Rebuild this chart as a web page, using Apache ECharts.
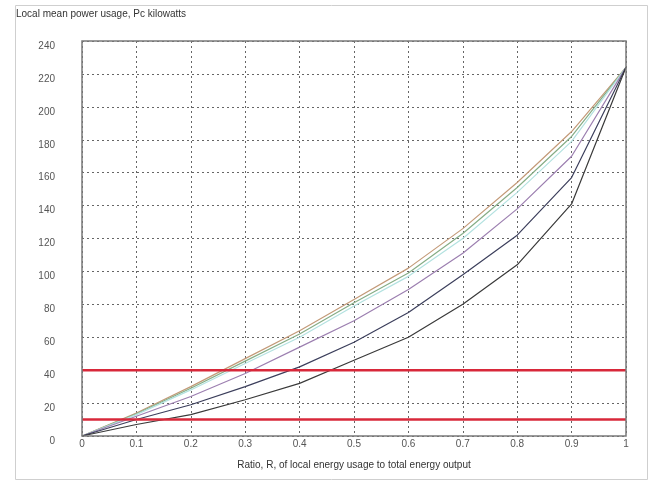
<!DOCTYPE html>
<html><head><meta charset="utf-8">
<script src="https://cdn.jsdelivr.net/npm/echarts@6/dist/echarts.min.js"></script>
<style>html,body{margin:0;padding:0;background:#fff}#c{width:653px;height:482px}</style>
</head><body><div id="c"></div>
<script>
var ratios = [0, 0.1, 0.2, 0.3, 0.4, 0.5, 0.6, 0.7, 0.8, 0.9, 1];
var curveTan    = [0, 14, 30, 47, 64, 83, 102, 126, 154, 185, 224];
var curveGreen  = [0, 13.5, 29, 45.5, 62, 81, 99, 123, 151, 182, 224];
var curveCyan   = [0, 13, 28, 44, 60, 79, 97, 120, 148, 179, 224];
var curvePurple = [0, 12, 24, 38, 54, 70, 89, 111, 138, 170, 224];
var curveNavy   = [0, 10, 19, 30, 42, 57, 75, 98, 122, 157, 224];
var curveDark   = [0, 7, 13, 22, 32, 46, 60, 80, 104, 141, 224];
var limitUpper = 40;
var limitLower = 10;
var yTitle = 'Local mean power usage, Pc kilowatts';
var xTitle = 'Ratio, R, of local energy usage to total energy output';

function pts(vals){ return ratios.map(function(r,i){ return [r, vals[i]]; }); }
var curves = [
  {v: curveTan, c: '#c39a78'},
  {v: curveGreen, c: '#86ad86'},
  {v: curveCyan, c: '#b3e2e0'},
  {v: curvePurple, c: '#9c7fb0'},
  {v: curveNavy, c: '#3c3f5c'},
  {v: curveDark, c: '#3a3a3a'}
];
var series = curves.map(function(cv){
  return {type:'line', data: pts(cv.v), symbol:'none', smooth:false,
    lineStyle:{color: cv.c, width:1.2}, silent:true, z:3};
});
[limitUpper, limitLower].forEach(function(l){
  series.push({type:'line', data:[[0,l],[1,l]], symbol:'none',
    lineStyle:{color:'#d8283a', width:2.5}, silent:true, z:4});
});

var chart = echarts.init(document.getElementById('c'), null, {renderer:'canvas'});
var font = 'Liberation Sans, Arial, sans-serif';
chart.setOption({
  animation:false,
  backgroundColor:'#fff',
  grid:{left:82, right:27, top:41, bottom:46, show:false},
  graphic:[
    {type:'rect', shape:{x:15.5, y:5.5, width:632, height:474}, style:{fill:'none', stroke:'#cfcfcf', lineWidth:1}, z:-10},
    {type:'text', left:16, top:9, style:{text:yTitle, fontSize:10, fill:'#333', fontFamily:font}},
    {type:'text', x:354, y:465, style:{text:xTitle, fontSize:10, fill:'#333', fontFamily:font, align:'center', verticalAlign:'middle'}},
    {type:'rect', shape:{x:82, y:41, width:544, height:395}, style:{fill:'none', stroke:'#7a7a7a', lineWidth:1.5}, z:10}
  ],
  xAxis:{type:'value', min:0, max:1, interval:0.1,
    axisLine:{show:false}, axisTick:{show:false},
    axisLabel:{color:'#555', fontSize:10, fontFamily:font, margin:3,
      formatter:function(v){ return String(Math.round(v*10)/10); }},
    splitLine:{show:true, lineStyle:{color:'#666', type:[2,3], width:1}}
  },
  yAxis:{type:'value', min:0, max:240, interval:20,
    axisLine:{show:false}, axisTick:{show:false},
    axisLabel:{color:'#555', fontSize:10, fontFamily:font, margin:27, verticalAlign:'top'},
    splitLine:{show:true, lineStyle:{color:'#666', type:[2,3], width:1}}
  },
  series: series
});
</script></body></html>
